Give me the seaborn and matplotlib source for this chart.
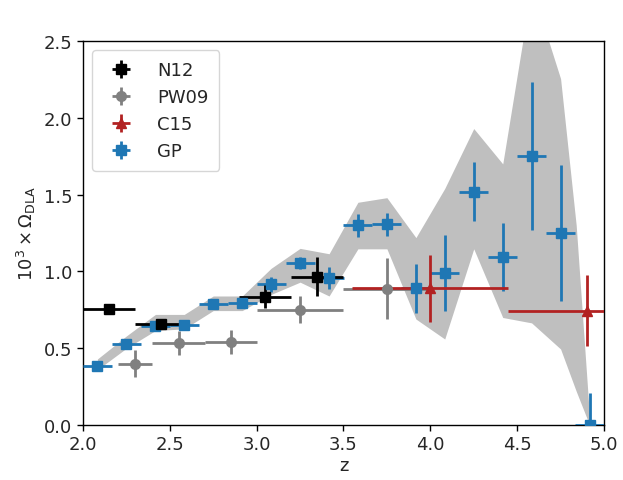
import numpy as np
import pandas as pd
import matplotlib
matplotlib.use("Agg")
import matplotlib.pyplot as plt
import seaborn as sns

# GP estimate, bins of width 1/6 in redshift
gp_z = [2.083, 2.25, 2.417, 2.583, 2.75, 2.917, 3.083, 3.25, 3.417,
        3.583, 3.75, 3.917, 4.083, 4.25, 4.417, 4.583, 4.75, 4.917]
gp_omega = [0.385, 0.53, 0.647, 0.652, 0.787, 0.795, 0.915, 1.056, 0.958,
            1.30, 1.306, 0.891, 0.99, 1.52, 1.095, 1.75, 1.25, 0.0]
gp_err = [0.02, 0.02, 0.03, 0.02, 0.03, 0.03, 0.05, 0.04, 0.07,
          0.075, 0.075, 0.16, 0.25, 0.19, 0.22, 0.48, 0.44, 0.21]
gp_zerr = 1.0 / 12

# GP 68% band
band_z = [2.083, 2.25, 2.417, 2.583, 2.75, 2.917, 3.083, 3.25, 3.417,
          3.583, 3.75, 3.917, 4.083, 4.25, 4.417, 4.583, 4.75, 4.84, 4.917]
band_lo = [0.36, 0.50, 0.615, 0.626, 0.745, 0.745, 0.85, 0.93, 0.84,
           1.147, 1.147, 0.69, 0.56, 1.147, 0.70, 0.665, 0.495, 0.22, 0.0]
band_hi = [0.43, 0.58, 0.72, 0.72, 0.84, 0.84, 1.02, 1.15, 1.115,
           1.45, 1.48, 1.22, 1.54, 1.93, 1.70, 2.85, 2.255, 1.30, 0.05]

# N12
n12_z = [2.15, 2.45, 3.05, 3.35]
n12_zerr = [0.15, 0.15, 0.15, 0.15]
n12_omega = [0.756, 0.658, 0.836, 0.965]
n12_err = [0.03, 0.03, 0.074, 0.127]

# PW09
pw_z = [2.30, 2.55, 2.85, 3.25, 3.75]
pw_zerr = [0.10, 0.15, 0.15, 0.25, 0.25]
pw_omega = [0.40, 0.535, 0.54, 0.75, 0.887]
pw_err = [0.09, 0.08, 0.076, 0.087, 0.20]

# C15
c15_z = [4.0, 4.9]
c15_zerr = [0.45, 0.45]
c15_omega = [0.89, 0.745]
c15_err = [0.22, 0.23]

sns.set_theme(style="ticks")
plt.rcParams["font.family"] = ["DejaVu Sans"]
plt.rcParams["mathtext.fontset"] = "dejavusans"

fig = plt.figure(figsize=(6.23, 4.81), dpi=100)
ax = fig.add_axes([0.1332, 0.1143, 0.8363, 0.7984])

band = pd.DataFrame({"z": band_z, "lo": band_lo, "hi": band_hi})
ax.fill_between(band["z"], band["lo"], band["hi"], color="0.75",
                linewidth=0, zorder=1)

kw = dict(linestyle="none", elinewidth=2.0, capsize=0, zorder=3)
h_gp = ax.errorbar(gp_z, gp_omega, xerr=gp_zerr, yerr=gp_err, fmt="s",
                   color="#1f77b4", ms=7, **kw)
h_pw = ax.errorbar(pw_z, pw_omega, xerr=pw_zerr, yerr=pw_err, fmt="o",
                   color="gray", ms=7, **kw)
h_c15 = ax.errorbar(c15_z, c15_omega, xerr=c15_zerr, yerr=c15_err, fmt="^",
                    color="#b22222", ms=7, **kw)
h_n12 = ax.errorbar(n12_z, n12_omega, xerr=n12_zerr, yerr=n12_err, fmt="s",
                    color="black", ms=7, **kw)

# GP centres as a seaborn layer under the error bars
sns.scatterplot(x=gp_z, y=gp_omega, marker="s", color="#1f77b4", s=45,
                edgecolor="none", ax=ax, zorder=2.5)

ax.set_xlim(2.0, 5.0)
ax.set_ylim(0.0, 2.5)
ax.set_xticks(np.arange(2.0, 5.01, 0.5))
ax.set_yticks(np.arange(0.0, 2.51, 0.5))
ax.tick_params(labelsize=13, width=1, length=4, color="black")
for s in ax.spines.values():
    s.set_visible(True)
    s.set_color("black")
    s.set_linewidth(1)
ax.set_xlabel("z", fontsize=13, labelpad=2)
ax.set_ylabel(r"$10^3 \times \Omega_{\rm DLA}$", fontsize=13)

ax.legend([h_n12, h_pw, h_c15, h_gp], ["N12", "PW09", "C15", "GP"],
          loc="upper left", fontsize=13, frameon=True, borderpad=0.6,
          handletextpad=1.0, bbox_to_anchor=(0.0, 1.0))

fig.savefig("out.png", dpi=100)
